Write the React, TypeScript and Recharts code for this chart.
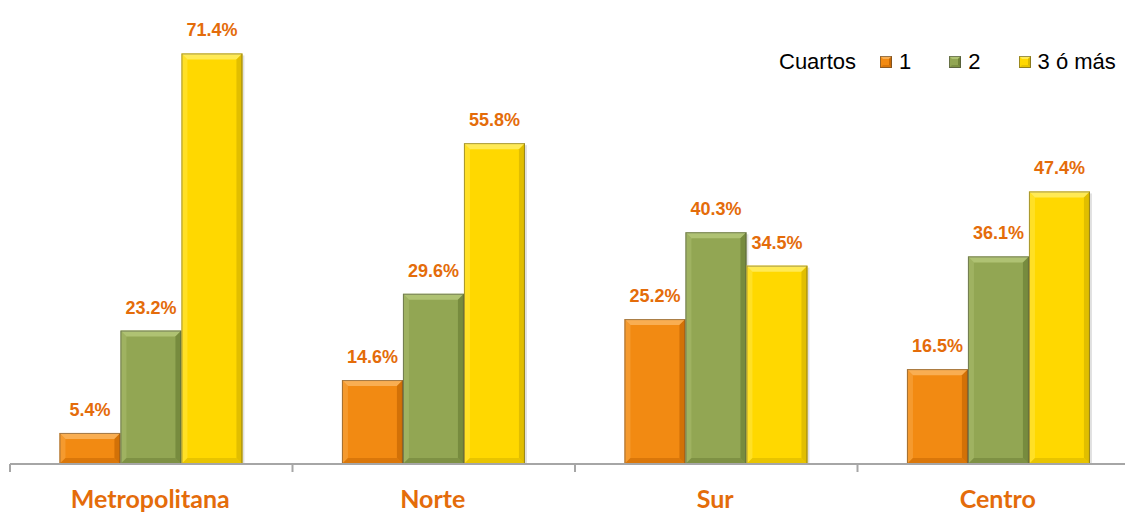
import { BarChart, Bar, XAxis, YAxis, LabelList } from 'recharts';

const categories = ['Metropolitana', 'Norte', 'Sur', 'Centro'];
const uno = [5.4, 14.6, 25.2, 16.5];
const dos = [23.2, 29.6, 40.3, 36.1];
const tres = [71.4, 55.8, 34.5, 47.4];
const seriesNames = ['1', '2', '3 ó más'];

const data = categories.map((name, i) => ({ name, uno: uno[i], dos: dos[i], tres: tres[i] }));

const palette = {
  uno: { base: '#F28A12', light: '#F9AE52', dark: '#C96A05' },
  dos: { base: '#92A653', light: '#AFC273', dark: '#71843A' },
  tres: { base: '#FFD800', light: '#FFEA55', dark: '#D9B800' },
};

const labelColor = '#E46C0A';

function makeBevel(c: { base: string; light: string; dark: string }) {
  return (props: any) => {
    const { x, y, width, height } = props;
    if (!height || height <= 0) return null;
    const b = Math.min(6, width / 2, height / 2);
    return (
      <g>
        <rect x={x + 2} y={y + 2} width={width} height={height - 2} fill="rgba(0,0,0,0.12)" />
        <rect x={x} y={y} width={width} height={height} fill={c.base} />
        <polygon points={`${x},${y} ${x + width},${y} ${x + width - b},${y + b} ${x + b},${y + b}`} fill={c.light} />
        <polygon points={`${x},${y} ${x + b},${y + b} ${x + b},${y + height - b} ${x},${y + height}`} fill={c.light} opacity={0.45} />
        <polygon points={`${x + width},${y} ${x + width},${y + height} ${x + width - b},${y + height - b} ${x + width - b},${y + b}`} fill={c.dark} opacity={0.8} />
        <polygon points={`${x},${y + height} ${x + width},${y + height} ${x + width - b},${y + height - b} ${x + b},${y + height - b}`} fill={c.dark} opacity={0.6} />
        <rect x={x + 0.5} y={y + 0.5} width={width - 1} height={height - 1} fill="none" stroke="rgba(60,60,60,0.45)" strokeWidth={1} />
      </g>
    );
  };
}

const CategoryTick = (props: any) => {
  const { x, y, payload } = props;
  const half = payload && payload.offset ? payload.offset : 141;
  return (
    <g>
      <line x1={x - half} y1={y - 8} x2={x - half} y2={y} stroke="#A6A6A6" strokeWidth={2} />
      <text x={x - 1} y={y + 36} textAnchor="middle" fill={labelColor} fontFamily="Lato, 'Open Sans', sans-serif" fontWeight="bold" fontSize={25}>
        {payload.value}
      </text>
    </g>
  );
};

const LegendMark = ({ c }: { c: { base: string; light: string; dark: string } }) => (
  <svg width={12} height={12} style={{ marginRight: 7 }}>
    <rect x={0} y={0} width={12} height={12} fill={c.base} />
    <polygon points="0,0 12,0 9,3 3,3" fill={c.light} />
    <polygon points="12,0 12,12 9,9 9,3" fill={c.dark} />
    <polygon points="0,12 12,12 9,9 3,9" fill={c.dark} opacity={0.6} />
    <rect x={0.5} y={0.5} width={11} height={11} fill="none" stroke="rgba(60,60,60,0.5)" />
  </svg>
);

export default function App() {
  const keys: ('uno' | 'dos' | 'tres')[] = ['uno', 'dos', 'tres'];
  return (
    <div style={{ position: 'absolute', left: 0, top: 0, width: 1125, height: 513, overflow: 'hidden', background: '#fff' }}>
      <BarChart
        width={1145}
        height={513}
        data={data}
        margin={{ top: 4, right: 5, bottom: 0, left: 10 }}
        barCategoryGap="17.5%"
        barGap={0}
      >
        <XAxis
          dataKey="name"
          axisLine={{ stroke: '#A6A6A6', strokeWidth: 2 }}
          tickLine={false}
          height={49}
          tick={<CategoryTick />}
          interval={0}
        />
        <YAxis hide domain={[0, 80]} />
        {keys.map((k) => (
          <Bar key={k} dataKey={k} shape={makeBevel(palette[k])} isAnimationActive={false}>
            <LabelList
              dataKey={k}
              position="top"
              offset={17}
              formatter={(v: any) => `${Number(v).toFixed(1)}%`}
              fill={labelColor}
              fontFamily="'Liberation Sans', Arial, sans-serif"
              fontWeight="bold"
              fontSize={18}
            />
          </Bar>
        ))}
      </BarChart>
      <div
        style={{
          position: 'absolute',
          left: 779,
          top: 49,
          display: 'flex',
          alignItems: 'center',
          fontFamily: "'Liberation Sans', Arial, sans-serif",
          fontSize: 22,
          color: '#000',
        }}
      >
        <span style={{ marginRight: 24 }}>Cuartos</span>
        {keys.map((k, i) => (
          <span key={k} style={{ display: 'flex', alignItems: 'center', marginRight: i < 2 ? 38 : 0 }}>
            <LegendMark c={palette[k]} />
            {seriesNames[i]}
          </span>
        ))}
      </div>
    </div>
  );
}
